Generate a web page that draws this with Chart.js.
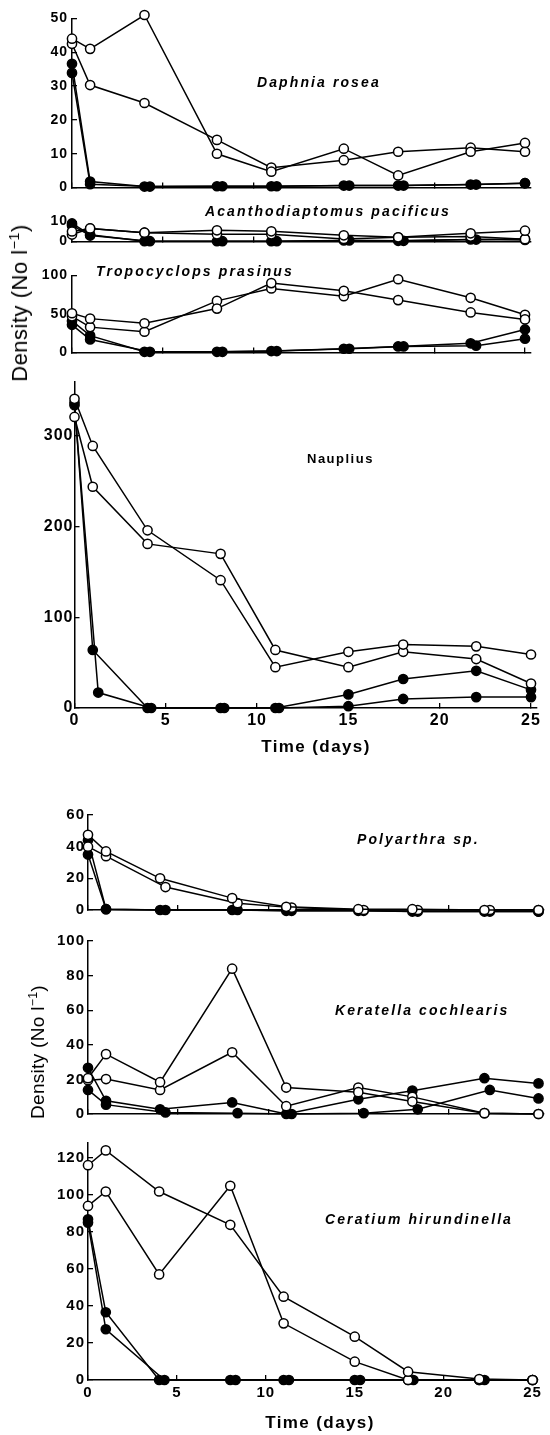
<!DOCTYPE html>
<html><head><meta charset="utf-8">
<script src="https://cdn.jsdelivr.net/npm/chart.js@4"></script>
<style>
html,body{margin:0;padding:0;background:#fff;}
#fig{position:relative;width:550px;height:1435px;overflow:hidden;background:#fff;font-family:"Liberation Sans",Arial,sans-serif;color:#000;}
#fig canvas{position:absolute;left:0;}
.title{position:absolute;white-space:nowrap;font-weight:bold;font-style:italic;font-size:14px;letter-spacing:2.1px;line-height:16px;transform:translateY(-50%);}
.plain{font-style:normal;font-size:13px;letter-spacing:1.5px;}
.ylab{position:absolute;white-space:nowrap;line-height:24px;transform:translate(-50%,-50%) rotate(-90deg);}
.xlab{position:absolute;white-space:nowrap;font-weight:bold;font-size:17px;letter-spacing:1.4px;line-height:20px;transform:translate(-50%,-50%);}
sup{font-size:65%;vertical-align:0.55em;line-height:0;}
</style></head>
<body><div id="fig"></div>
<script>
// ---------- data ----------
const DAYS = [0, 1, 4, 8, 11, 15, 18, 22, 25];
const DAYS_LAG = [0, 1, 4.3, 8.3, 11.3, 15.3, 18.3, 22.3, 25];
const NAUPLIUS_FILLED_DAYS = [0, 1.3, 4.2, 8.2, 11.2, 15, 18, 22, 25];
const X_TICKS = [0, 5, 10, 15, 20, 25];

const daphniaTicks = [0, 10, 20, 30, 40, 50];
const daphniaOpenA = [44, 41, 51, 10, 4.7, 11.5, 3.6, 10.6, 13.2];
const daphniaOpenB = [42.5, 30.3, 25, 14.1, 5.9, 8.1, 10.6, 11.8, 10.6];
const daphniaFilledC = [36.6, 1.8, 0.3, 0.4, 0.4, 0.6, 0.6, 0.9, 1.3];
const daphniaFilledD = [33.9, 1.0, 0.3, 0.4, 0.4, 0.6, 0.6, 0.9, 1.3];

const acanthTicks = [0, 10];
const acanthOpenA = [5, 6.5, 4.4, 5.6, 5.1, 3.1, 2.1, 4.1, 5.4];
const acanthOpenB = [3.5, 6.5, 4.4, 3.6, 3.6, 1.3, 2.1, 2.5, 1.2];
const acanthFilledC = [9, 3.4, 0.2, 0.2, 0.2, 0.6, 0.4, 1.1, 1.3];
const acanthFilledD = [8, 3.0, 0.2, 0.2, 0.2, 0.6, 0.4, 1.0, 0.8];

const tropoTicks = [0, 50, 100];
const tropoOpenA = [51, 44, 38, 57, 90, 80, 68, 52, 43];
const tropoOpenB = [47, 33, 27, 67, 83, 73, 95, 71, 49];
const tropoFilledC = [41, 22, 1, 1, 2, 5, 8, 12, 30];
const tropoFilledD = [36, 17, 1, 1, 2, 5, 8, 9, 18];

const naupliusTicks = [0, 100, 200, 300];
const naupliusOpenA = [341, 289, 196, 141, 45, 62, 70, 68, 59];
const naupliusOpenB = [321, 244, 181, 170, 64, 45, 62, 54, 27];
const naupliusFilledC = [337, 64, 0, 0, 0, 15, 32, 41, 20];
const naupliusFilledD = [334, 17, 0, 0, 0, 2, 10, 12, 12];

const polyTicks = [0, 20, 40, 60];
const polyOpenA = [47.5, 37, 20, 7.5, 2, 0.5, 0.5, 0, 0];
const polyOpenB = [40, 34, 14.5, 4.3, 1.5, 0, 0, 0, 0];
const polyFilledC = [44, 0.5, 0, 0, -0.5, -0.5, -1, -1, -1];
const polyFilledD = [35, 0.5, 0, 0, -0.5, -0.5, -1, -1, -1];

const keraTicks = [0, 20, 40, 60, 80, 100];
const keraOpenA = [20.7, 34.6, 18.4, 84, 15.3, 12.6, 7.2, 0.5, 0];
const keraOpenB = [19.5, 20.2, 13.9, 35.7, 4.5, 15.3, 9.9, 0.5, 0];
const keraFilledC = [26.7, 7.6, 2.7, 6.7, 0, 8.5, 13.5, 20.7, 17.7];
const keraFilledD = [13.9, 5.4, 0.9, 0.5, 0, 0.5, 2.7, 13.9, 9];

const ceraTicks = [0, 20, 40, 60, 80, 100, 120];
const ceraOpenA = [116, 124, 101.8, 83.8, 45, 23.4, 4.5, 0.5, 0];
const ceraOpenB = [94, 101.8, 57, 104.9, 30.6, 9.9, 0, 0, 0];
const ceraFilledC = [86.8, 36.6, 0, 0, 0, 0, 0, 0, 0];
const ceraFilledD = [85, 27.4, 0, 0, 0, 0, 0, 0, 0];

// ---------- drawing ----------
const FONT = '"Liberation Sans", Arial, sans-serif';
Chart.defaults.font.family = FONT;
Chart.defaults.color = '#000';
const fig = document.getElementById('fig');

const spacingPlugin = {
  id: 'tickSpacing',
  beforeDraw(chart, args, opts) { chart.ctx.letterSpacing = (opts.px || 0) + 'px'; },
  afterDraw(chart) { chart.ctx.letterSpacing = '0px'; }
};

function four(openA, openB, filledC, filledD, openBx, filledDx) {
  return [
    {x: DAYS, y: filledC, filled: true},
    {x: filledDx || DAYS_LAG, y: filledD, filled: true},
    {x: DAYS, y: openA, filled: false},
    {x: openBx || DAYS, y: openB, filled: false}
  ];
}

function makePanel(p) {
  const padTop = 14, padBottom = 8;
  const xAxisH = p.xLabels ? 28 : 0;
  const plotH = p.y0 - p.yTop;
  const H = Math.round(padTop + plotH + xAxisH + padBottom);
  const cv = document.createElement('canvas');
  cv.width = 550; cv.height = H;
  cv.style.top = (p.yTop - padTop) + 'px';
  cv.style.width = '550px'; cv.style.height = H + 'px';
  fig.appendChild(cv);
  const xRight = p.x0 + p.xMax * p.ppd;
  const font = {family: FONT, size: p.fontSize, weight: 'bold'};
  const mkGrid = () => ({display: true, drawOnChartArea: false, drawTicks: true, tickLength: -5, color: '#000', lineWidth: 1.3});
  const mkBorder = () => ({display: true, color: '#000', width: 1.5});
  new Chart(cv, {
    type: 'scatter',
    plugins: [spacingPlugin],
    data: {datasets: p.series.map(s => ({
      data: s.x.map((x, i) => ({x: x, y: s.y[i]})),
      showLine: true, borderColor: '#000', borderWidth: 1.5, tension: 0,
      pointRadius: p.r, pointHoverRadius: p.r, pointBorderWidth: 1.5, pointBorderColor: '#000',
      pointBackgroundColor: s.filled ? '#000' : '#fff', clip: false, order: s.filled ? 2 : 1
    }))},
    options: {
      responsive: false, animation: false, devicePixelRatio: 1, events: [],
      layout: {padding: {left: 0, top: padTop, right: 550 - xRight, bottom: padBottom}},
      plugins: {legend: {display: false}, tooltip: {enabled: false}, tickSpacing: {px: 1}},
      scales: {
        x: {type: 'linear', position: 'bottom', min: 0, max: p.xMax,
          grid: mkGrid(), border: mkBorder(),
          afterBuildTicks: s => { s.ticks = X_TICKS.map(v => ({value: v})); },
          afterFit: s => { s.height = xAxisH; },
          ticks: {display: p.xLabels, autoSkip: false, maxRotation: 0, padding: p.xPad || 8, font: font, color: '#000', callback: v => String(v)}},
        y: {type: 'linear', position: 'left', min: 0, max: p.yMax,
          grid: mkGrid(), border: mkBorder(),
          afterBuildTicks: s => { s.ticks = p.yTicks.map(v => ({value: v})); },
          afterFit: s => { s.width = p.x0; },
          ticks: {autoSkip: false, padding: p.yPad, font: font, color: '#000', callback: v => String(v)}}
      }
    }
  });
}

const TOP = {x0: 72, ppd: 18.12, xMax: 25.3, fontSize: 14, yPad: 9, r: 4.6, xLabels: false};
const BOT = {x0: 88, ppd: 18.04, xMax: 25.3, fontSize: 15, yPad: 8, r: 4.6, xLabels: false};

makePanel(Object.assign({}, TOP, {yTop: 15, y0: 197, yMax: 50, yTicks: daphniaTicks,
  series: four(daphniaOpenA, daphniaOpenB, daphniaFilledC, daphniaFilledD)}));
makePanel(Object.assign({}, TOP, {yTop: 218, y0: 251, yMax: 10, yTicks: acanthTicks,
  series: four(acanthOpenA, acanthOpenB, acanthFilledC, acanthFilledD)}));
makePanel(Object.assign({}, TOP, {yTop: 272, y0: 362, yMax: 100, yTicks: tropoTicks,
  series: four(tropoOpenA, tropoOpenB, tropoFilledC, tropoFilledD)}));
makePanel({x0: 74.5, ppd: 18.26, xMax: 25.3, fontSize: 16, yPad: 6, xPad: 8.4, r: 4.6, xLabels: true,
  yTop: 380, y0: 708, yMax: 360, yTicks: naupliusTicks,
  series: four(naupliusOpenA, naupliusOpenB, naupliusFilledC, naupliusFilledD, DAYS, NAUPLIUS_FILLED_DAYS)});
makePanel(Object.assign({}, BOT, {yTop: 812, y0: 919, yMax: 60, yTicks: polyTicks,
  series: four(polyOpenA, polyOpenB, polyFilledC, polyFilledD, DAYS_LAG)}));
makePanel(Object.assign({}, BOT, {yTop: 938, y0: 1123, yMax: 100, yTicks: keraTicks,
  series: four(keraOpenA, keraOpenB, keraFilledC, keraFilledD)}));
makePanel(Object.assign({}, BOT, {yTop: 1140, y0: 1380, yMax: 128, yTicks: ceraTicks, xLabels: true, xPad: 9,
  series: four(ceraOpenA, ceraOpenB, ceraFilledC, ceraFilledD)}));

// ---------- text ----------
function addText(cls, html, left, top, extra) {
  const d = document.createElement('div');
  d.className = cls; d.innerHTML = html;
  d.style.left = left + 'px'; d.style.top = top + 'px';
  if (extra) Object.assign(d.style, extra);
  fig.appendChild(d);
}
addText('title', 'Daphnia rosea', 257, 82);
addText('title', 'Acanthodiaptomus pacificus', 205, 211);
addText('title', 'Tropocyclops prasinus', 96, 271);
addText('title plain', 'Nauplius', 307, 459);
addText('title', 'Polyarthra sp.', 357, 839);
addText('title', 'Keratella cochlearis', 335, 1010);
addText('title', 'Ceratium hirundinella', 325, 1219);
addText('xlab', 'Time (days)', 316, 747);
addText('xlab', 'Time (days)', 320, 1423);
addText('ylab', 'Density (No l<sup>−1</sup>)', 20, 303, {fontSize: '22px', letterSpacing: '0.5px'});
addText('ylab', 'Density (No l<sup>−1</sup>)', 38, 1052, {fontSize: '19px', letterSpacing: '0.3px'});
</script>
</body></html>
